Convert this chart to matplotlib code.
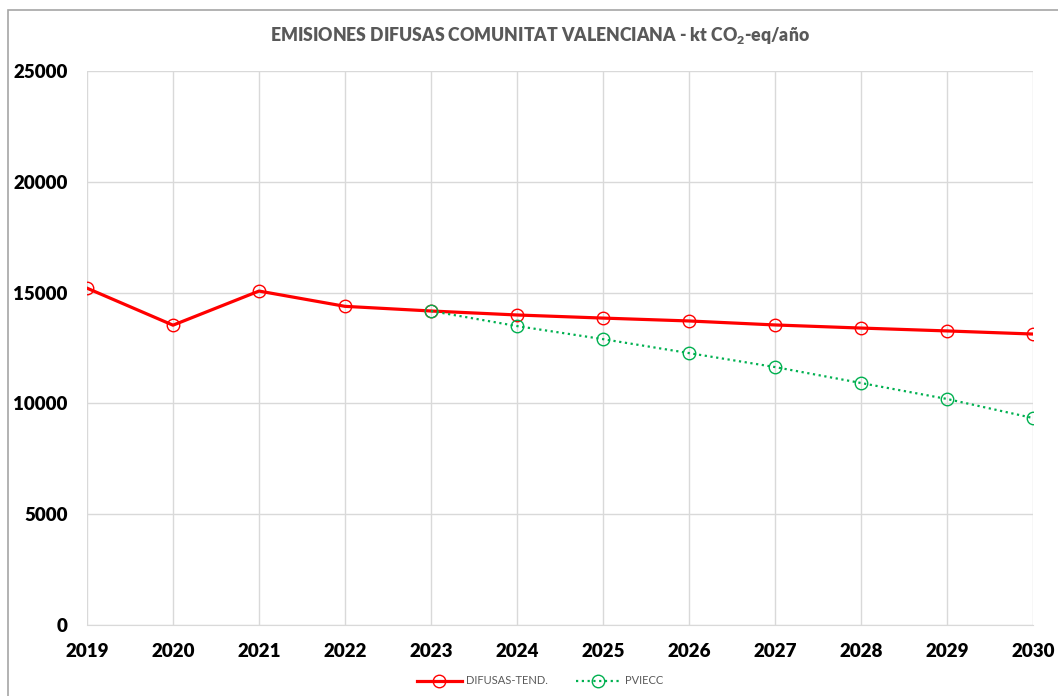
import matplotlib
matplotlib.use("Agg")
import matplotlib.pyplot as plt
from matplotlib.patches import Rectangle

years = [2019, 2020, 2021, 2022, 2023, 2024, 2025, 2026, 2027, 2028, 2029, 2030]
difusas_tend = [15200, 13530, 15070, 14380, 14170, 13990, 13850, 13720, 13540, 13400, 13270, 13130]
pviecc_years = [2023, 2024, 2025, 2026, 2027, 2028, 2029, 2030]
pviecc = [14170, 13490, 12900, 12270, 11640, 10920, 10200, 9340]
y_ticks = [0, 5000, 10000, 15000, 20000, 25000]

plt.rcParams['font.family'] = ['Lato', 'DejaVu Sans']
plt.rcParams['mathtext.fontset'] = 'custom'
plt.rcParams['mathtext.rm'] = 'Lato'
plt.rcParams['mathtext.bf'] = 'Lato:heavy'

W, H = 1058, 696
fig = plt.figure(figsize=(W / 100, H / 100), dpi=100)
# plot area in pixels: x 87..1033, y 71..625
ax = fig.add_axes([87 / W, (H - 625) / H, (1033 - 87) / W, (625 - 71) / H])

# outer chart frame (cut on right and bottom like the screenshot)
fig.patches.append(Rectangle((8 / W, -0.05), 1.2, (H - 10) / H + 0.05,
                             transform=fig.transFigure, fill=False,
                             edgecolor='#a6a6a6', linewidth=1.2))

ax.plot(years, difusas_tend, color='#ff0000', linewidth=2.3, marker='o',
        markersize=9, markerfacecolor='none', markeredgecolor='#ff0000',
        markeredgewidth=1.0, label='DIFUSAS-TEND.', zorder=4)
ax.plot(pviecc_years, pviecc, color='#00b050', linewidth=1.6, linestyle=(0, (1, 1.6)),
        marker='o', markersize=9, markerfacecolor='none', markeredgecolor='#00b050',
        markeredgewidth=1.0, label='PVIECC', zorder=5)

ax.set_xlim(2019, 2030)
ax.set_ylim(0, 25000)
ax.set_xticks(years)
ax.set_yticks(y_ticks)
ax.set_xticklabels([str(y) for y in years], fontsize=13.5, fontweight='heavy')
ax.set_yticklabels([str(v) for v in y_ticks], fontsize=13.5, fontweight='heavy')
ax.tick_params(length=0)
ax.tick_params(axis='x', pad=13)
ax.tick_params(axis='y', pad=14)
ax.grid(True, color='#d9d9d9', linewidth=1.0)
ax.set_axisbelow(True)
for side in ['top', 'right', 'left']:
    ax.spines[side].set_visible(False)
ax.spines['bottom'].set_color('#d9d9d9')

fig.text(540 / W, 1 - 36 / H,
         r'EMISIONES DIFUSAS COMUNITAT VALENCIANA - kt CO$_\mathbf{2}$-eq/año',
         ha='center', va='center', fontsize=12.7, fontweight='heavy', color='#595959')

leg = fig.legend(loc='center', bbox_to_anchor=(540 / W, 1 - 681 / H), ncol=2,
                 frameon=False, fontsize=8, handlelength=4, columnspacing=2.5,
                 handletextpad=0.4)
for t in leg.get_texts():
    t.set_color('#595959')

fig.savefig('out.png', dpi=100)
